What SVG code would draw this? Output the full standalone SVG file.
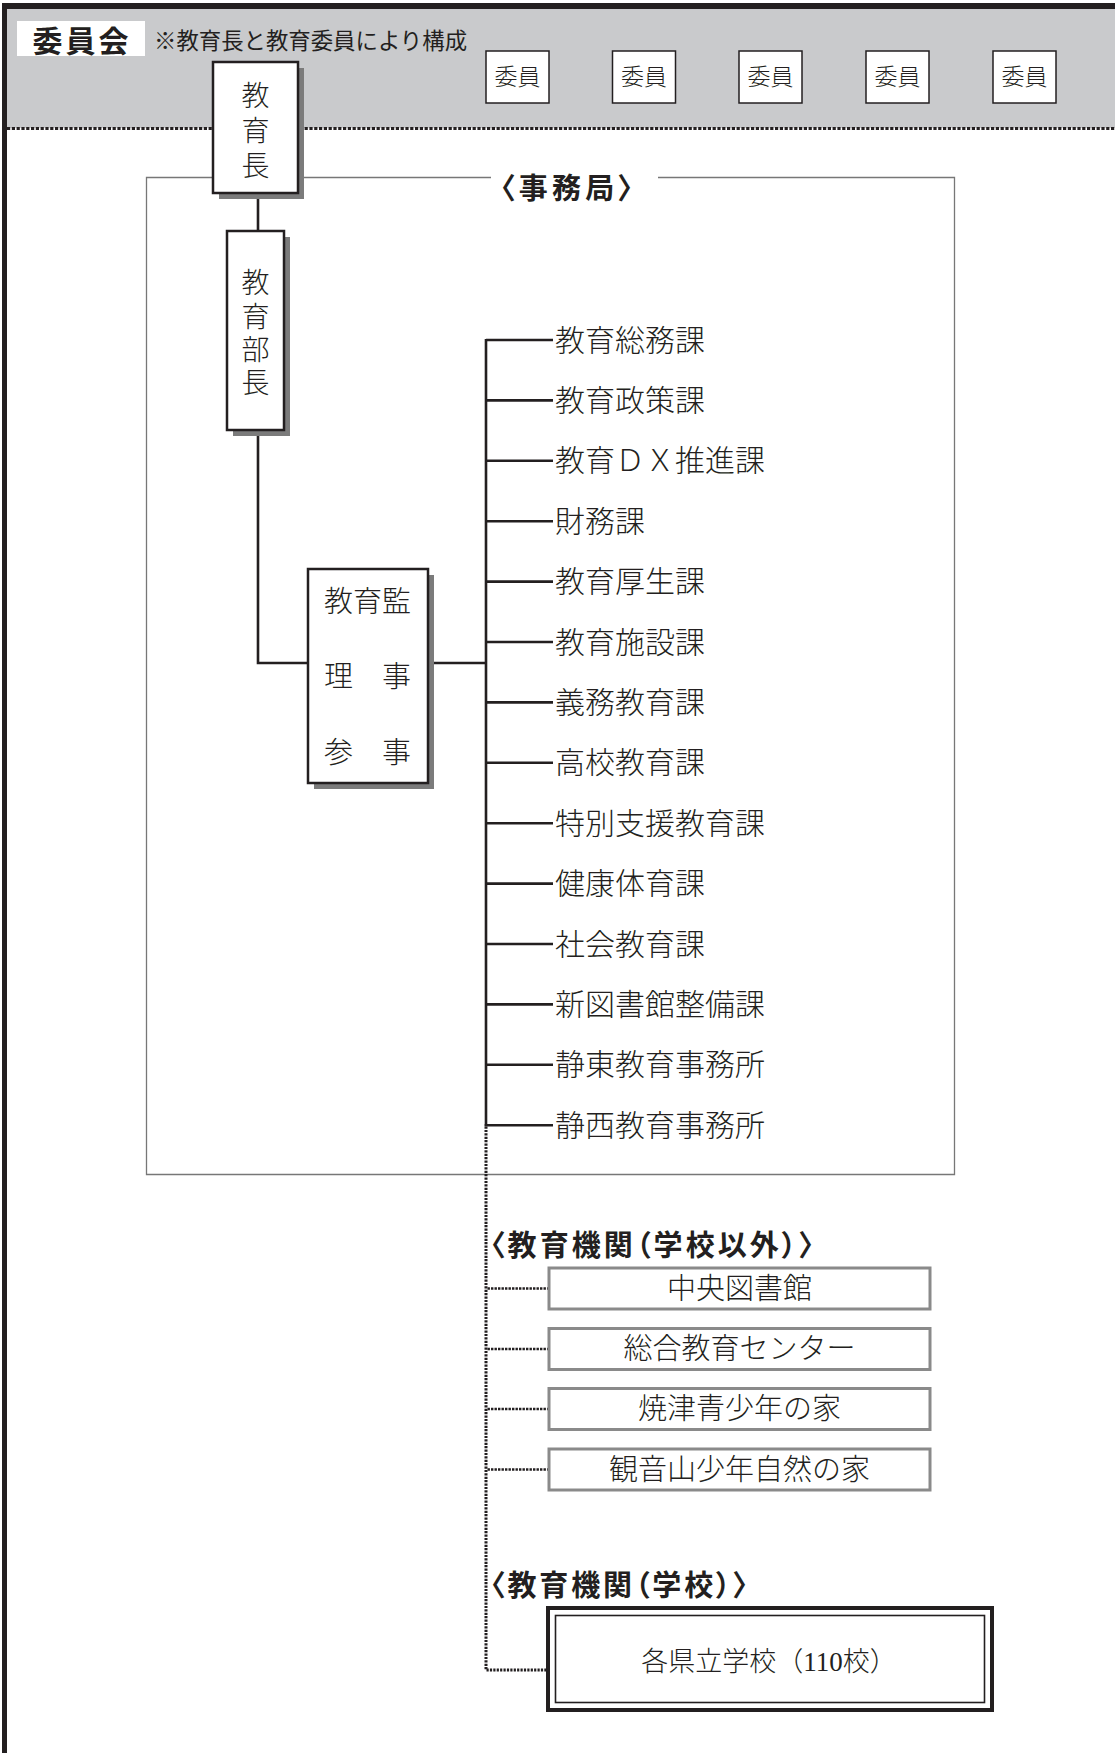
<svg xmlns="http://www.w3.org/2000/svg" width="1115" height="1753" viewBox="0 0 1115 1753">
<style>
.m{font-family:"Liberation Serif","Noto Sans CJK JP",serif;font-weight:300;fill:#231f20;dominant-baseline:central}
.g{font-family:"Noto Sans CJK JP","Liberation Sans",sans-serif;fill:#231f20;dominant-baseline:central}
.b{font-weight:700;font-feature-settings:"palt"}
.box{fill:#fff;stroke:#231f20;stroke-width:2.5}
.sh{fill:#7b7b7b}
.ln{fill:none;stroke:#231f20;stroke-width:2.6}
.dot{fill:none;stroke:#231f20;stroke-width:2.6;stroke-dasharray:2.4 1.1}
.gb{fill:#fff;stroke:#8a8a8a;stroke-width:3}
.iin{fill:#fff;stroke:#231f20;stroke-width:1.5}
</style>
<rect x="0" y="0" width="1115" height="1753" fill="#fff"/>
<g id="committee-band">
<rect x="7" y="9" width="1108" height="119" fill="#c9cacc"/>
<rect x="2" y="3" width="1113" height="6" fill="#231f20"/>
<rect x="2" y="3" width="5" height="1750" fill="#231f20"/>
<line x1="7" y1="128.5" x2="1115" y2="128.5" stroke="#231f20" stroke-width="3" stroke-dasharray="3.2 1.6"/>
<rect x="17" y="21" width="128" height="35" fill="#fff"/>
<text class="g b" x="82" y="38.5" font-size="30" text-anchor="middle" letter-spacing="3" style="font-feature-settings:normal">委員会</text>
<text class="g" x="154" y="39" font-size="22.4">※教育長と教育委員により構成</text>
</g>
<g id="members">
<g id="member1"><rect class="iin" x="486" y="51" width="63" height="52"/><text class="m" x="517.5" y="77" font-size="23" text-anchor="middle">委員</text></g>
<g id="member2"><rect class="iin" x="612.5" y="51" width="63" height="52"/><text class="m" x="644" y="77" font-size="23" text-anchor="middle">委員</text></g>
<g id="member3"><rect class="iin" x="739" y="51" width="63" height="52"/><text class="m" x="770.5" y="77" font-size="23" text-anchor="middle">委員</text></g>
<g id="member4"><rect class="iin" x="866" y="51" width="63" height="52"/><text class="m" x="897.5" y="77" font-size="23" text-anchor="middle">委員</text></g>
<g id="member5"><rect class="iin" x="993" y="51" width="63" height="52"/><text class="m" x="1024.5" y="77" font-size="23" text-anchor="middle">委員</text></g>
</g>
<g id="secretariat-frame">
<path d="M491 177.5H146.5V1174.5H954.5V177.5H658" fill="none" stroke="#777" stroke-width="1.3"/>
<text class="g b" x="500" y="186" font-size="29" textLength="133" lengthAdjust="spacing">〈事務局〉</text>
</g>
<g id="connectors">
<line class="ln" x1="258" y1="193" x2="258" y2="231"/>
<polyline class="ln" points="258,430 258,663 308,663"/>
<line class="ln" x1="428" y1="663" x2="486" y2="663"/>
<line class="ln" x1="486" y1="339" x2="486" y2="1126"/>
<g class="ln">
<line x1="486" y1="340" x2="553" y2="340"/>
<line x1="486" y1="400.4" x2="553" y2="400.4"/>
<line x1="486" y1="460.8" x2="553" y2="460.8"/>
<line x1="486" y1="521.2" x2="553" y2="521.2"/>
<line x1="486" y1="581.6" x2="553" y2="581.6"/>
<line x1="486" y1="642" x2="553" y2="642"/>
<line x1="486" y1="702.4" x2="553" y2="702.4"/>
<line x1="486" y1="762.8" x2="553" y2="762.8"/>
<line x1="486" y1="823.2" x2="553" y2="823.2"/>
<line x1="486" y1="883.6" x2="553" y2="883.6"/>
<line x1="486" y1="944" x2="553" y2="944"/>
<line x1="486" y1="1004.4" x2="553" y2="1004.4"/>
<line x1="486" y1="1064.8" x2="553" y2="1064.8"/>
<line x1="484.7" y1="1125.2" x2="553" y2="1125.2"/>
</g>
<path d="M486 1126.5V1670H546" fill="none" stroke="#231f20" stroke-width="3" stroke-dasharray="2.2 1.2"/>
<g class="dot">
<line x1="487.5" y1="1288.5" x2="549" y2="1288.5"/>
<line x1="487.5" y1="1349" x2="549" y2="1349"/>
<line x1="487.5" y1="1409" x2="549" y2="1409"/>
<line x1="487.5" y1="1469.5" x2="549" y2="1469.5"/>
</g>
</g>
<g id="superintendent">
<rect class="sh" x="219" y="68" width="85" height="131"/>
<rect class="box" x="213" y="62" width="85" height="131"/>
<text class="m" x="255.5" y="96" font-size="28" text-anchor="middle">教</text>
<text class="m" x="255.5" y="131" font-size="28" text-anchor="middle">育</text>
<text class="m" x="255.5" y="166" font-size="28" text-anchor="middle">長</text>
</g>
<g id="director">
<rect class="sh" x="233" y="237" width="57" height="199"/>
<rect class="box" x="227" y="231" width="57" height="199"/>
<text class="m" x="255.5" y="283" font-size="28" text-anchor="middle">教</text>
<text class="m" x="255.5" y="317" font-size="28" text-anchor="middle">育</text>
<text class="m" x="255.5" y="350" font-size="28" text-anchor="middle">部</text>
<text class="m" x="255.5" y="383" font-size="28" text-anchor="middle">長</text>
</g>
<g id="supervisor">
<rect class="sh" x="314" y="575" width="120" height="214"/>
<rect class="box" x="308" y="569" width="120" height="214"/>
<text class="m" x="324" y="602" font-size="29">教育監</text>
<text class="m" x="324" y="677" font-size="29">理　事</text>
<text class="m" x="324" y="753" font-size="29">参　事</text>
</g>
<g id="divisions" class="m" font-size="30">
<text x="555" y="340">教育総務課</text>
<text x="555" y="400.4">教育政策課</text>
<text x="555" y="460.8">教育ＤＸ推進課</text>
<text x="555" y="521.2">財務課</text>
<text x="555" y="581.6">教育厚生課</text>
<text x="555" y="642">教育施設課</text>
<text x="555" y="702.4">義務教育課</text>
<text x="555" y="762.8">高校教育課</text>
<text x="555" y="823.2">特別支援教育課</text>
<text x="555" y="883.6">健康体育課</text>
<text x="555" y="944">社会教育課</text>
<text x="555" y="1004.4">新図書館整備課</text>
<text x="555" y="1064.8">静東教育事務所</text>
<text x="555" y="1125.2">静西教育事務所</text>
</g>
<g id="institutions">
<text class="g b" x="490" y="1243" font-size="29" textLength="324" lengthAdjust="spacing">〈教育機関（学校以外）〉</text>
<g id="inst1"><rect class="gb" x="549" y="1268" width="381" height="41"/><text class="m" x="739.5" y="1288.5" font-size="29" text-anchor="middle">中央図書館</text></g>
<g id="inst2"><rect class="gb" x="549" y="1328.5" width="381" height="41"/><text class="m" x="739.5" y="1349" font-size="29" text-anchor="middle">総合教育センター</text></g>
<g id="inst3"><rect class="gb" x="549" y="1388.5" width="381" height="41"/><text class="m" x="739.5" y="1409" font-size="29" text-anchor="middle">焼津青少年の家</text></g>
<g id="inst4"><rect class="gb" x="549" y="1449" width="381" height="41"/><text class="m" x="739.5" y="1469.5" font-size="29" text-anchor="middle">観音山少年自然の家</text></g>
</g>
<g id="schools">
<text class="g b" x="490" y="1583" font-size="29" textLength="258" lengthAdjust="spacing">〈教育機関（学校）〉</text>
<rect x="548" y="1608" width="444" height="102" fill="#fff" stroke="#231f20" stroke-width="4"/>
<rect x="555.5" y="1615.5" width="429" height="87" fill="none" stroke="#231f20" stroke-width="1.6"/>
<text class="m" x="769" y="1662" font-size="27" text-anchor="middle">各県立学校（110校）</text>
</g>
</svg>
